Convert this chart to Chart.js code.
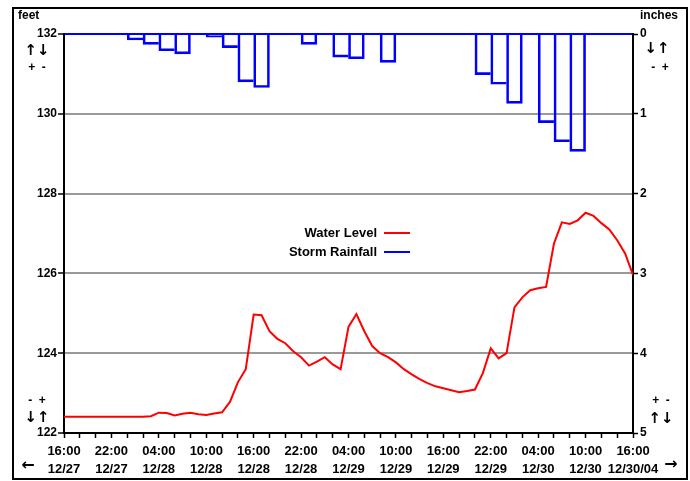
<!DOCTYPE html>
<html>
<head>
<meta charset="utf-8">
<script src="https://cdn.jsdelivr.net/npm/chart.js@4/dist/chart.umd.min.js"></script>
<style>
html,body{margin:0;padding:0;background:#fff;}
canvas{display:block;}
</style>
</head>
<body>
<canvas id="c" width="690" height="481"></canvas>
<script>
// Tick labels (every 6 hours, starting 16:00 12/27)
const timeLabels = ['16:00','22:00','04:00','10:00','16:00','22:00','04:00','10:00','16:00','22:00','04:00','10:00','16:00'];
const dateLabels = ['12/27','12/27','12/28','12/28','12/28','12/28','12/29','12/29','12/29','12/29','12/30','12/30','12/30/04'];

// Water level (feet), hourly from 16:00 12/27
const waterLevel = [
  122.41,122.41,122.41,122.41,122.41,122.41,122.41,122.41,122.41,122.41,122.41,
  122.42,122.51,122.50,122.44,122.48,122.51,122.47,122.45,122.49,122.52,
  122.78,123.27,123.60,124.97,124.95,124.55,124.36,124.25,124.05,123.90,
  123.69,123.79,123.90,123.72,123.60,124.66,124.98,124.55,124.18,124.00,
  123.90,123.77,123.60,123.47,123.35,123.25,123.17,123.12,123.07,123.02,
  123.05,123.09,123.50,124.12,123.87,124.00,125.15,125.40,125.58,125.63,
  125.66,126.75,127.28,127.24,127.33,127.52,127.44,127.26,127.10,126.83,
  126.50,125.96
];

// Storm rainfall (inches), 2-hour bins from 16:00 12/27
const rainfall = [
  0,0,0,0,0.075,0.13,0.21,0.25,0,0.04,0.17,0.60,
  0.67,0,0,0.13,0,0.29,0.31,0,0.355,0,0,0,
  0,0,0.51,0.63,0.87,0,1.11,1.35,1.47,0,0,0
];

const seriesNames = ['Water Level','Storm Rainfall'];

const FONT = '"Liberation Sans", Arial, Helvetica, sans-serif';
const BW = 2;

const decor = {
  id: 'decor',
  afterDraw(chart) {
    const ctx = chart.ctx;
    ctx.save();
    // outer frame
    ctx.strokeStyle = '#000';
    ctx.lineWidth = 2;
    ctx.strokeRect(13, 8, 674, 471);
    ctx.fillStyle = '#000';
    ctx.textBaseline = 'middle';
    ctx.font = 'bold 12px ' + FONT;
    ctx.textAlign = 'left';
    ctx.fillText('feet', 18, 16);
    ctx.fillText('inches', 640, 16);
    ctx.font = 'bold 15px "DejaVu Sans", sans-serif';
    ctx.textAlign = 'center';
    ctx.fillText('↑↓', 37, 51);
    ctx.fillText('↓↑', 657, 49);
    ctx.fillText('↓↑', 37, 418);
    ctx.fillText('↑↓', 661, 419);
    ctx.font = 'bold 12px ' + FONT;
    ctx.fillText('+  -', 37, 68);
    ctx.fillText('-  +', 660, 68);
    ctx.fillText('-  +', 37, 401);
    ctx.fillText('+  -', 661, 401);
    ctx.font = 'bold 16px "DejaVu Sans", sans-serif';
    ctx.fillText('←', 28, 466);
    ctx.fillText('→', 671, 465);
    // legend
    ctx.font = 'bold 13px ' + FONT;
    ctx.textAlign = 'right';
    chart.data.datasets.forEach((ds, i) => {
      const y = 233 + i * 19;
      ctx.fillStyle = '#000';
      ctx.fillText(ds.label, 377, y);
      ctx.strokeStyle = ds.borderColor;
      ctx.lineWidth = 2;
      ctx.beginPath();
      ctx.moveTo(384, y);
      ctx.lineTo(410, y);
      ctx.stroke();
    });
    ctx.restore();
  }
};

new Chart(document.getElementById('c'), {
  data: {
    datasets: [
      {
        type: 'line',
        label: seriesNames[0],
        data: waterLevel.map((v, i) => ({x: i, y: v})),
        yAxisID: 'y',
        borderColor: '#ff0000',
        borderWidth: 2,
        pointRadius: 0,
        tension: 0,
        fill: false
      },
      {
        type: 'bar',
        label: seriesNames[1],
        data: rainfall.map((v, i) => ({x: i * 2 + 1, y: v})),
        yAxisID: 'y2',
        backgroundColor: 'rgba(0,0,0,0)',
        borderColor: '#0000ff',
        borderSkipped: 'start',
        borderWidth: (c) => {
          const i = c.dataIndex;
          if (i === undefined) return BW;
          const cur = rainfall[i];
          const prev = i > 0 ? rainfall[i - 1] : 0;
          const next = i < rainfall.length - 1 ? rainfall[i + 1] : 0;
          return {top: 0, bottom: BW, left: prev <= cur ? BW : 0, right: next < cur ? BW : 0};
        },
        barPercentage: 1,
        categoryPercentage: 1
      }
    ]
  },
  options: {
    responsive: false,
    animation: false,
    devicePixelRatio: 1,
    layout: {padding: {top: 34, bottom: 0, left: 0, right: 0}},
    plugins: {legend: {display: false}, tooltip: {enabled: false}},
    scales: {
      x: {
        type: 'linear',
        position: 'bottom',
        offset: false,
        min: 0,
        max: 72,
        afterFit: (s) => { s.height = 48; },
        ticks: {
          stepSize: 2,
          autoSkip: false,
          maxRotation: 0,
          padding: 4,
          color: '#000',
          font: {family: FONT, size: 13, weight: 'bold', lineHeight: '18px'},
          callback: (v) => (v % 6 === 0 ? [timeLabels[v / 6], dateLabels[v / 6]] : '')
        },
        grid: {offset: false, drawOnChartArea: false, drawTicks: true, tickLength: 5, tickColor: '#000', tickWidth: 1.5},
        border: {display: true, color: '#000', width: 2}
      },
      y: {
        position: 'left',
        min: 122,
        max: 132,
        afterFit: (s) => { s.width = 64; },
        ticks: {
          stepSize: 2,
          padding: 1,
          color: '#000',
          font: {family: FONT, size: 12, weight: 'bold'}
        },
        grid: {
          color: (c) => (c.tick && c.tick.value === 132 ? '#0000ff' : (c.tick && c.tick.value === 122 ? 'rgba(0,0,0,0)' : '#999999')),
          lineWidth: 2,
          drawTicks: true,
          tickLength: 6,
          tickColor: '#000',
          tickWidth: 1.5
        },
        border: {display: true, color: '#000', width: 2}
      },
      y2: {
        position: 'right',
        min: 0,
        max: 5,
        reverse: true,
        afterFit: (s) => { s.width = 57; },
        ticks: {
          stepSize: 1,
          padding: 2,
          color: '#000',
          font: {family: FONT, size: 12, weight: 'bold'}
        },
        grid: {drawOnChartArea: false, drawTicks: true, tickLength: 5, tickColor: '#000', tickWidth: 1.5},
        border: {display: true, color: '#000', width: 2}
      }
    }
  },
  plugins: [decor]
});
</script>
</body>
</html>
